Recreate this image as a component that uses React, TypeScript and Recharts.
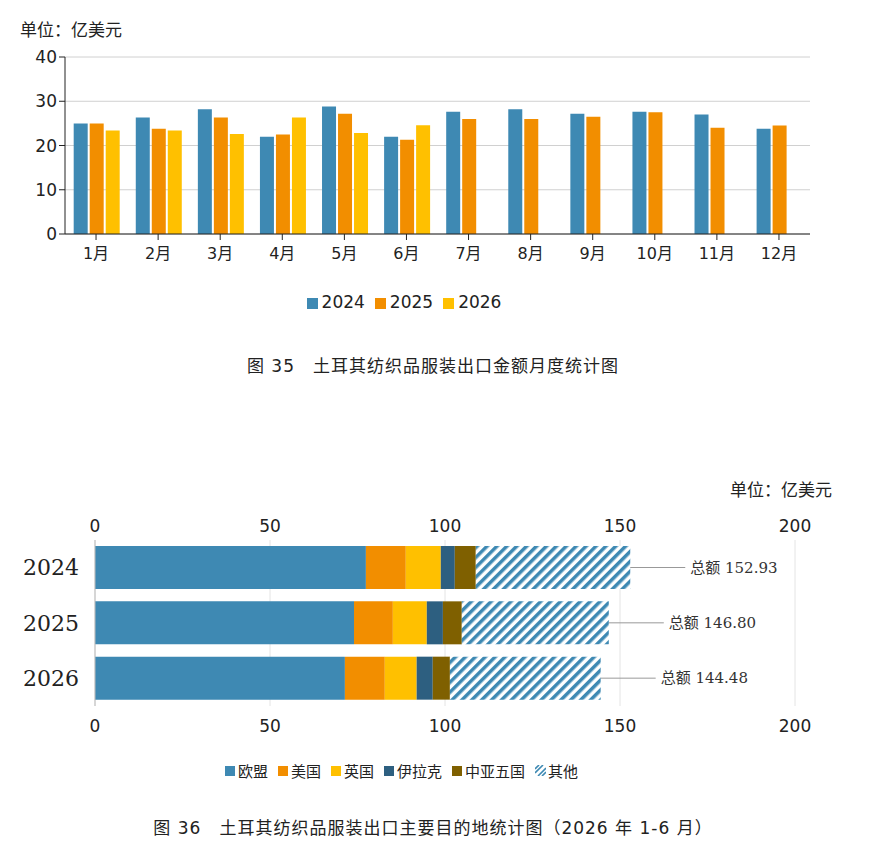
import { BarChart, ComposedChart, Bar, Line, XAxis, YAxis, CartesianGrid, Legend, LabelList } from 'recharts';

const months = ['1月', '2月', '3月', '4月', '5月', '6月', '7月', '8月', '9月', '10月', '11月', '12月'];
const y2024 = [25, 26.3, 28.2, 22, 28.8, 22, 27.6, 28.2, 27.2, 27.6, 27, 23.8];
const y2025 = [25, 23.8, 26.3, 22.5, 27.2, 21.3, 26, 26, 26.5, 27.5, 24, 24.5];
const y2026 = [23.4, 23.4, 22.6, 26.3, 22.8, 24.6, null, null, null, null, null, null];

const years = ['2024', '2025', '2026'];
const eu = [77.4, 74, 71.4];
const us = [11.4, 11.1, 11.4];
const uk = [10, 9.7, 9.1];
const iraq = [4, 4.6, 4.6];
const ca5 = [6, 5.4, 4.9];
const others = [44.13, 42, 43.08];
const totals = [152.93, 146.8, 144.48];

const regionNames = ['欧盟', '美国', '英国', '伊拉克', '中亚五国', '其他'];
const regionColors = ['#3E89B3', '#F28E00', '#FFC000', '#2D5F80', '#7F6000', 'url(#hatch)'];

const monthly = months.map((m, i) => ({ m, a: y2024[i], b: y2025[i], c: y2026[i] }));
const regions = years.map((y, i) => ({
  y, eu: eu[i], us: us[i], uk: uk[i], iraq: iraq[i], ca5: ca5[i], others: others[i], total: totals[i],
}));

const sans = '"DejaVu Sans", "Noto Sans CJK SC", sans-serif';
const serif = '"DejaVu Serif", "Noto Sans CJK SC", serif';

const TotalLabel = (props: any) => {
  const { x, y, width, height, index } = props;
  const x0 = x + width;
  const cy = y + height / 2;
  return (
    <g>
      <line x1={x0} y1={cy} x2={x0 + 55} y2={cy} stroke="#999" />
      <text x={x0 + 60} y={cy + 5} fontSize={15} fill="#333" fontFamily={serif}>
        {'总额 ' + totals[index].toFixed(2)}
      </text>
    </g>
  );
};

const RegionLegend = () => (
  <div style={{ display: 'flex', justifyContent: 'center', gap: 10, fontSize: 15, fontFamily: serif, color: '#222' }}>
    {regionNames.map((n, i) => (
      <span key={n} style={{ display: 'flex', alignItems: 'center' }}>
        <svg width={11} height={11} style={{ marginRight: 2 }}>
          {i === 5 ? (
            <g stroke="#3E89B3" strokeWidth={1.6}>
              <line x1={0} y1={4} x2={4} y2={0} />
              <line x1={0} y1={8} x2={8} y2={0} />
              <line x1={3} y1={11} x2={11} y2={3} />
              <line x1={7} y1={11} x2={11} y2={7} />
            </g>
          ) : (
            <rect width={10} height={10} y={1} fill={regionColors[i]} />
          )}
        </svg>
        {n}
      </span>
    ))}
  </div>
);

export default function App() {
  return (
    <div style={{ position: 'relative', width: 854, height: 831, fontFamily: sans, color: '#222' }}>
      <div style={{ position: 'absolute', left: 12, top: 8, fontSize: 17 }}>单位：亿美元</div>
      <div style={{ position: 'absolute', top: 0, left: 0 }}>
        <BarChart width={850} height={345} data={monthly} margin={{ top: 49, right: 48, left: 0, bottom: 5 }} barGap={2} barCategoryGap="14%">
          <CartesianGrid vertical={false} stroke="#d0d0d0" />
          <XAxis dataKey="m" height={40} tick={{ fontSize: 16, fill: '#222', dy: 6 }} stroke="#222" tickLine={{ stroke: '#222' }} interval={0} />
          <YAxis width={57} domain={[0, 40]} ticks={[0, 10, 20, 30, 40]} tick={{ fontSize: 17, fill: '#222' }} stroke="#222" />
          <Legend height={56} iconType="square" iconSize={11} wrapperStyle={{ fontSize: 17, paddingTop: 18 }} formatter={(v) => <span style={{ color: '#222' }}>{v}</span>} />
          <Bar dataKey="a" name="2024" fill="#3E89B3" isAnimationActive={false} />
          <Bar dataKey="b" name="2025" fill="#F28E00" isAnimationActive={false} />
          <Bar dataKey="c" name="2026" fill="#FFC000" isAnimationActive={false} />
        </BarChart>
      </div>
      <div style={{ position: 'absolute', left: 0, width: 850, top: 344, textAlign: 'center', fontSize: 17, letterSpacing: 1 }}>
        图 35　土耳其纺织品服装出口金额月度统计图
      </div>

      <div style={{ position: 'absolute', right: 30, top: 468, fontSize: 17 }}>单位：亿美元</div>
      <div style={{ position: 'absolute', top: 500, left: 0 }}>
        <ComposedChart width={850} height={300} data={regions} layout="vertical" margin={{ top: 2, right: 63, left: 0, bottom: 0 }} barCategoryGap={6}>
          <defs>
            <pattern id="hatch" patternUnits="userSpaceOnUse" width="7" height="7" patternTransform="rotate(45)">
              <rect width="7" height="7" fill="#fff" />
              <rect width="3.5" height="7" fill="#3E89B3" />
            </pattern>
          </defs>
          <CartesianGrid horizontal={false} stroke="#e4e4e4" xAxisId="bot" />
          <XAxis xAxisId="top" orientation="top" type="number" domain={[0, 200]} ticks={[0, 50, 100, 150, 200]} height={30} axisLine={false} tickLine={false} tick={{ fontSize: 17, fill: '#222' }} />
          <XAxis xAxisId="bot" type="number" domain={[0, 200]} ticks={[0, 50, 100, 150, 200]} height={38} axisLine={false} tickLine={false} tick={{ fontSize: 17, fill: '#222', dy: 6 }} />
          <YAxis type="category" dataKey="y" width={87} tickLine={false} stroke="#bbb" tick={{ fontSize: 22, fill: '#222', fontFamily: serif, dx: -8 }} />
          <Legend height={48} wrapperStyle={{ paddingTop: 16 }} content={<RegionLegend />} />
          <Bar xAxisId="bot" dataKey="eu" name="欧盟" stackId="s" fill="#3E89B3" isAnimationActive={false} />
          <Bar xAxisId="bot" dataKey="us" name="美国" stackId="s" fill="#F28E00" isAnimationActive={false} />
          <Bar xAxisId="bot" dataKey="uk" name="英国" stackId="s" fill="#FFC000" isAnimationActive={false} />
          <Bar xAxisId="bot" dataKey="iraq" name="伊拉克" stackId="s" fill="#2D5F80" isAnimationActive={false} />
          <Bar xAxisId="bot" dataKey="ca5" name="中亚五国" stackId="s" fill="#7F6000" isAnimationActive={false} />
          <Bar xAxisId="bot" dataKey="others" name="其他" stackId="s" fill="url(#hatch)" isAnimationActive={false}>
            <LabelList dataKey="total" content={<TotalLabel />} />
          </Bar>
          <Line xAxisId="top" dataKey="total" stroke="none" dot={false} activeDot={false} legendType="none" isAnimationActive={false} />
        </ComposedChart>
      </div>
      <div style={{ position: 'absolute', left: 0, width: 850, top: 806, textAlign: 'center', fontSize: 17, letterSpacing: 1 }}>
        图 36　土耳其纺织品服装出口主要目的地统计图（2026 年 1-6 月）
      </div>
    </div>
  );
}
